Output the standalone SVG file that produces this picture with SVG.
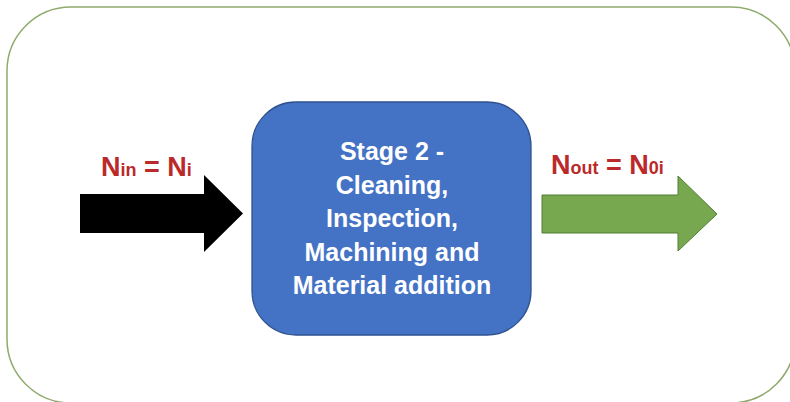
<svg xmlns="http://www.w3.org/2000/svg" width="790" height="402" viewBox="0 0 790 402">
<style>
.lbl{font-family:"Liberation Sans",Arial,sans-serif;font-weight:bold;fill:#bb2a2a;font-size:27px}
.sub{font-size:18px}
.main{font-family:"Liberation Sans",Arial,sans-serif;font-weight:bold;fill:#ffffff;font-size:25px;text-anchor:middle}
</style>
<rect width="790" height="402" fill="#ffffff"/>
<g id="frame">
<rect x="7" y="7" width="788" height="396" rx="64" ry="64" fill="none" stroke="#8faa6d" stroke-width="1.5"/>
</g>
<g id="connectors">
<polygon points="80,194 204,194 204,175 243,213.5 204,252 204,233 80,233" fill="#000000"/>
<polygon points="542,195 678,195 678,176 717,214 678,251 678,233 542,233" fill="#77a84f" stroke="#507e32" stroke-width="1"/>
</g>
<g id="label-in">
<text class="lbl" x="101" y="176">N<tspan class="sub">in</tspan> = N<tspan class="sub">i</tspan></text>
</g>
<g id="label-out">
<text class="lbl" x="551" y="174">N<tspan class="sub">out</tspan> = N<tspan class="sub">0i</tspan></text>
</g>
<g id="stage2">
<rect x="252" y="102" width="279" height="233" rx="44" ry="44" fill="#4472c4" stroke="#2f528f" stroke-width="1.3"/>
<text class="main" x="392" y="160">Stage 2 -</text>
<text class="main" x="392" y="193.5">Cleaning,</text>
<text class="main" x="392" y="227">Inspection,</text>
<text class="main" x="392" y="260.5">Machining and</text>
<text class="main" x="392" y="294">Material addition</text>
</g>
</svg>
